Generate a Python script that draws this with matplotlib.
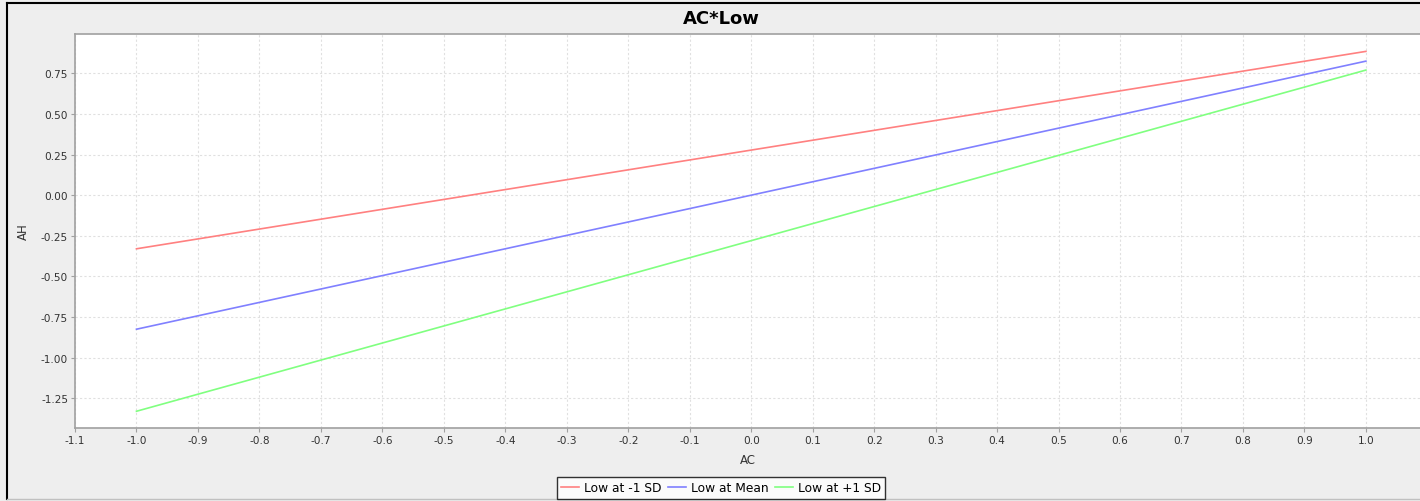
#!/usr/bin/env python3
# -*- coding: utf-8 -*-
"""Simple slopes of AC on AH at three levels of Low (JFreeChart look)."""
import matplotlib
matplotlib.use('Agg')
import matplotlib.pyplot as plt
from matplotlib.lines import Line2D

# ── data ───────────────────────────────────────────────────────────────
ac = [-1.0, 1.0]
ah_low_minus = [-0.33, 0.885]
ah_low_mean = [-0.825, 0.825]
ah_low_plus = [-1.33, 0.77]
series_labels = ["Low at -1 SD", "Low at Mean", "Low at +1 SD"]
series_colors = ["#ff8080", "#8080ff", "#80ff80"]
x_ticks = [round(-1.1 + 0.1 * i, 1) for i in range(22)]
y_ticks = [-1.25, -1.0, -0.75, -0.5, -0.25, 0.0, 0.25, 0.5, 0.75]

W, H = 1420, 502
fig = plt.figure(figsize=(W / 100, H / 100), dpi=100, facecolor="#eeeeee")

# outer chart border (cropped on the right like the screenshot)
fig.add_artist(Line2D([7 / W, 7 / W], [1 - 4 / H, 1 - 500 / H], color="black", lw=1.5,
                      transform=fig.transFigure))
fig.add_artist(Line2D([7 / W, 1], [1 - 4 / H, 1 - 4 / H], color="black", lw=1.5,
                      transform=fig.transFigure))
fig.add_artist(Line2D([7 / W, 1], [1 - 500 / H, 1 - 500 / H], color="#c0c0c0", lw=1,
                      transform=fig.transFigure))

left, right, top, bottom = 75, 1420, 35, 429
ax = fig.add_axes([left / W, 1 - bottom / H, (right - left) / W, (bottom - top) / H])
ax.set_facecolor("white")

for ys, lab, col in zip([ah_low_minus, ah_low_mean, ah_low_plus], series_labels, series_colors):
    ax.plot(ac, ys, color=col, lw=1.2, label=lab)

ax.set_xlim(-1.1, 1.088)
ax.set_ylim(-1.433, 0.992)
ax.set_xticks(x_ticks)
ax.set_xticklabels([f"{v:.1f}" for v in x_ticks])
ax.set_yticks(y_ticks)
ax.set_yticklabels([f"{v:.2f}" for v in y_ticks])
ax.grid(True, color="#e0e0e0", lw=0.8, linestyle=(0, (2, 2)))
ax.set_axisbelow(True)
for s in ax.spines.values():
    s.set_color("#a0a0a0")
    s.set_linewidth(1.2)
ax.spines["right"].set_visible(False)
ax.tick_params(axis="both", length=3, width=0.8, color="#a0a0a0",
               labelsize=7.6, labelcolor="#333333", pad=2)

ax.set_xlabel("AC", fontsize=8.5, color="#333333", labelpad=6)
ax.set_ylabel("AH", fontsize=8.5, color="#333333", labelpad=8)
fig.text(721 / W, 1 - 19 / H, "AC*Low", ha="center", va="center",
         fontsize=13, fontweight="bold", color="black")

leg = fig.legend(loc="center", bbox_to_anchor=(721 / W, 1 - 489 / H), ncol=3,
                 fontsize=8.8, frameon=True, fancybox=False, handlelength=1.5,
                 handletextpad=0.4, columnspacing=0.5, borderpad=0.35,
                 borderaxespad=0)
leg.get_frame().set_edgecolor("black")
leg.get_frame().set_linewidth(1)
leg.get_frame().set_facecolor("white")

fig.savefig("out.png", dpi=100, facecolor=fig.get_facecolor())
